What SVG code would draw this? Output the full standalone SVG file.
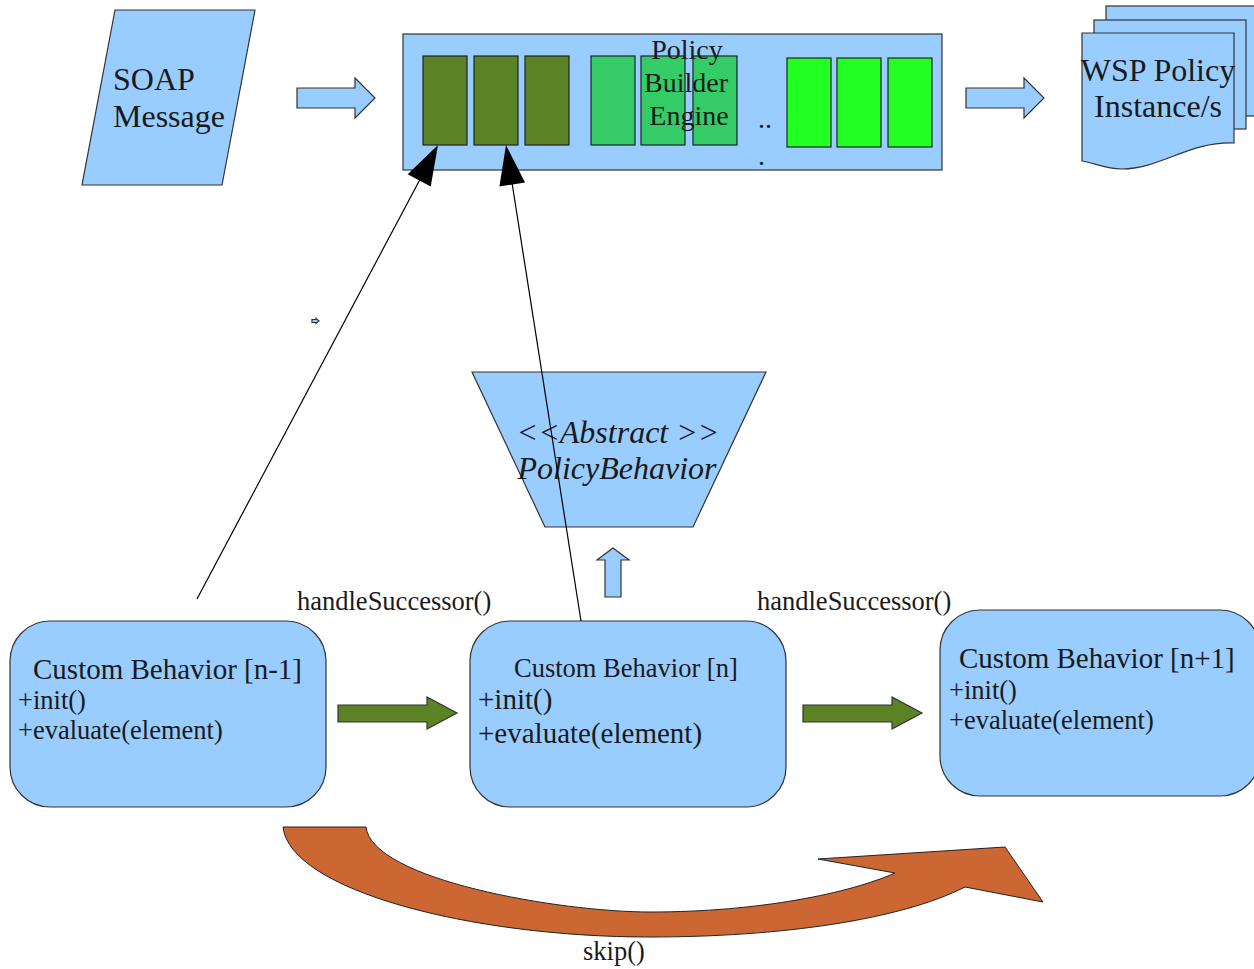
<svg xmlns="http://www.w3.org/2000/svg" width="1254" height="969" viewBox="0 0 1254 969">
<style>
  .blue{fill:#99ccff;stroke:#333333;stroke-width:1.2}
  .olive{fill:#5c8226;stroke:#222222;stroke-width:1.2}
  .mid{fill:#33cc66;stroke:#222222;stroke-width:1.2}
  .bright{fill:#22ff22;stroke:#222222;stroke-width:1.2}
  .t{font-family:"Liberation Serif","Times New Roman",serif;fill:#1a1a1a}
  .line{stroke:#000000;stroke-width:1.2;fill:none}
  .head{fill:#000000;stroke:none}
</style>
<rect x="0" y="0" width="1254" height="969" fill="#ffffff"/>

<g id="soap">
  <polygon class="blue" points="115,10 255,10 222,185 82,185"/>
  <text class="t" x="113" y="90" font-size="32">SOAP</text>
  <text class="t" x="113" y="127" font-size="32">Message</text>
</g>

<g id="arrow-in">
  <polygon class="blue" points="297,88 355,88 355,78 375,98 355,118 355,108 297,108"/>
</g>

<g id="engine">
  <rect class="blue" x="403" y="34" width="539" height="136"/>
  <rect class="olive" x="423" y="56" width="44" height="89"/>
  <rect class="olive" x="474" y="56" width="44" height="89"/>
  <rect class="olive" x="525" y="56" width="44" height="89"/>
  <rect class="mid" x="591" y="56" width="44" height="89"/>
  <rect class="mid" x="641" y="56" width="44" height="89"/>
  <rect class="mid" x="693" y="56" width="44" height="89"/>
  <rect class="bright" x="787" y="58" width="44" height="89"/>
  <rect class="bright" x="837" y="58" width="44" height="89"/>
  <rect class="bright" x="888" y="58" width="44" height="89"/>
  <text class="t" x="687" y="59" font-size="28" text-anchor="middle">Policy</text>
  <text class="t" x="686" y="92" font-size="28" text-anchor="middle">Builder</text>
  <text class="t" x="689" y="125" font-size="28" text-anchor="middle">Engine</text>
  <text class="t" x="758" y="128" font-size="28">..</text>
  <text class="t" x="758" y="165" font-size="28">.</text>
</g>

<g id="arrow-out">
  <polygon class="blue" points="966,88 1024,88 1024,78 1044,98 1024,118 1024,108 966,108"/>
</g>

<g id="wsp">
  <rect class="blue" x="1106" y="6" width="152" height="110"/>
  <rect class="blue" x="1094" y="20" width="152" height="109"/>
  <path class="blue" d="M1082,33 L1234,33 L1234,143 C1190,141 1160,169 1122,169 C1105,169 1095,163 1082,161 Z"/>
  <text class="t" x="1158" y="81" font-size="32" text-anchor="middle">WSP Policy</text>
  <text class="t" x="1158" y="117" font-size="32" text-anchor="middle">Instance/s</text>
</g>

<g id="tiny-arrow">
  <polygon class="blue" points="312,319.5 316,319.5 316,318.5 319,321 316,323.5 316,322.5 312,322.5" stroke-width="0.6"/>
</g>

<g id="abstract">
  <polygon class="blue" points="472,372 766,372 693,527 545,527"/>
  <text class="t" x="618" y="443" font-size="32" font-style="italic" text-anchor="middle">&lt;&lt;Abstract &gt;&gt;</text>
  <text class="t" x="617" y="479" font-size="32" font-style="italic" text-anchor="middle">PolicyBehavior</text>
</g>

<g id="arrow-up">
  <polygon class="blue" points="605,597 621,597 621,560 629,560 613,548 597,560 605,560"/>
</g>

<g id="cb-prev">
  <rect class="blue" x="10" y="621" width="316" height="186" rx="40" ry="40"/>
  <text class="t" x="33" y="679" font-size="29">Custom Behavior [n-1]</text>
  <text class="t" x="18" y="709" font-size="26.5">+init()</text>
  <text class="t" x="18" y="739" font-size="26.5">+evaluate(element)</text>
</g>

<g id="cb-n">
  <rect class="blue" x="470" y="621" width="316" height="186" rx="40" ry="40"/>
  <text class="t" x="514" y="677" font-size="26.5">Custom Behavior [n]</text>
  <text class="t" x="478" y="709" font-size="29">+init()</text>
  <text class="t" x="478" y="743" font-size="29">+evaluate(element)</text>
</g>

<g id="cb-next">
  <rect class="blue" x="940" y="610" width="320" height="186" rx="40" ry="40"/>
  <text class="t" x="959" y="668" font-size="29">Custom Behavior [n+1]</text>
  <text class="t" x="949" y="699" font-size="26.5">+init()</text>
  <text class="t" x="949" y="729" font-size="26.5">+evaluate(element)</text>
</g>

<g id="connectors">
  <line class="line" x1="197" y1="599" x2="425" y2="170"/>
  <polygon class="head" points="438,145 430.7,186.4 407.7,174.2"/>
  <line class="line" x1="581" y1="621" x2="510" y2="170"/>
  <polygon class="head" points="506,145 525,182.5 499.4,186.5"/>
  <polygon class="olive" points="338,705 427,705 427,697 457,713 427,729 427,722 338,722" style="stroke:#333333"/>
  <polygon class="olive" points="803,705 892,705 892,697 922,713 892,729 892,722 803,722" style="stroke:#333333"/>
  <text class="t" x="297" y="610" font-size="26.5">handleSuccessor()</text>
  <text class="t" x="757" y="610" font-size="26.5">handleSuccessor()</text>
  <path d="M283,827 L366,827 C372,880 560,912 650,912 C760,912 850,893 895,873 L818,859 L1005,847 L1043,902 L965,887 C900,920 780,937 650,937 C470,937 290,890 283,827 Z" fill="#cc6633" stroke="#222222" stroke-width="1"/>
  <text class="t" x="583" y="960" font-size="26.5">skip()</text>
</g>
</svg>
